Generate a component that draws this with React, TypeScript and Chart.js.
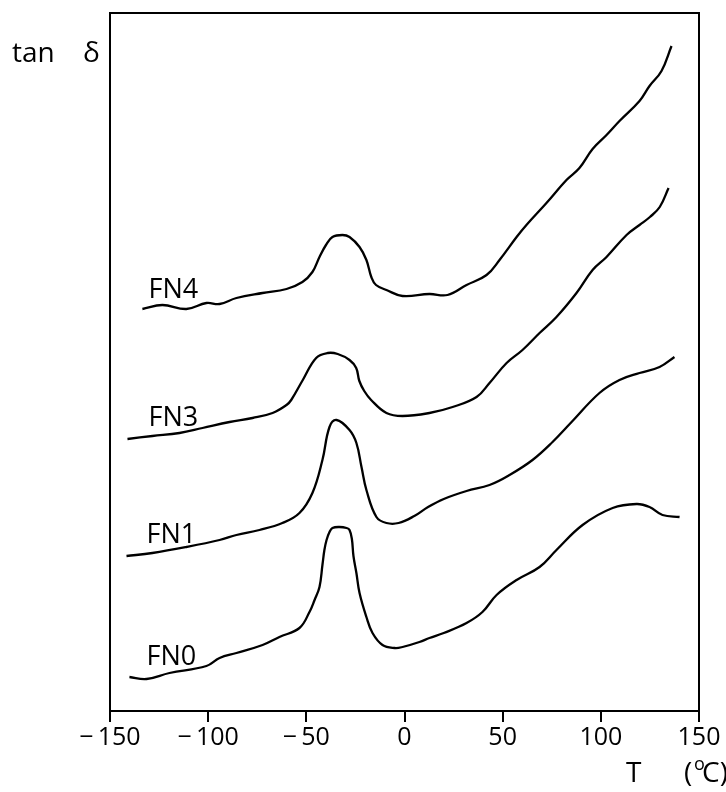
import { useEffect, useRef } from 'react';
import { Chart, registerables } from 'chart.js';

Chart.register(...registerables);

// Temperature axis ticks (°C)
const xTicks = [-150, -100, -50, 0, 50, 100, 150];

// tan δ curves (vertically offset, arbitrary units)
const fn4T = [-133.5, -123.3, -111.1, -100.9, -94.2, -85.6, -72.3, -60.1, -52.0, -46.9, -43.3, -40.0, -36.7, -31.6, -28.0, -22.9, -19.4, -16.9, -14.5, -9.2, -1.0, 12.7, 21.9, 31.6, 41.8, 48.4, 57.1, 62.1, 72.3, 82.5, 89.1, 95.8, 102.9, 109.5, 119.7, 124.8, 130.9, 136.0];
const fn4Y = [4.02, 4.06, 4.02, 4.08, 4.07, 4.13, 4.18, 4.22, 4.29, 4.39, 4.54, 4.66, 4.74, 4.76, 4.74, 4.64, 4.51, 4.34, 4.26, 4.21, 4.15, 4.17, 4.16, 4.26, 4.36, 4.51, 4.74, 4.86, 5.08, 5.31, 5.43, 5.62, 5.76, 5.90, 6.10, 6.25, 6.40, 6.65];

const fn3T = [-141.1, -128.4, -114.6, -102.9, -89.1, -77.4, -67.2, -60.1, -57.7, -51.8, -45.0, -39.1, -34.0, -28.0, -24.6, -23.0, -20.5, -17.0, -9.2, -1.0, 12.7, 24.5, 36.7, 43.3, 52.0, 60.1, 68.8, 77.4, 87.6, 95.8, 102.9, 113.1, 119.7, 125.0, 130.0, 134.5];
const fn3Y = [2.72, 2.75, 2.78, 2.83, 2.89, 2.93, 2.98, 3.06, 3.11, 3.31, 3.53, 3.58, 3.57, 3.51, 3.43, 3.30, 3.20, 3.11, 2.98, 2.95, 2.98, 3.04, 3.14, 3.28, 3.48, 3.61, 3.78, 3.94, 4.18, 4.41, 4.54, 4.76, 4.86, 4.94, 5.04, 5.23];

const fn1T = [-141.6, -128.4, -111.1, -94.2, -85.6, -73.9, -62.2, -53.5, -46.9, -41.8, -38.2, -34.6, -28.0, -24.5, -21.9, -19.4, -14.3, -9.2, -3.0, 5.0, 12.0, 20.0, 31.6, 43.3, 53.5, 65.2, 75.4, 85.1, 99.3, 109.5, 119.7, 129.9, 137.5];
const fn1Y = [1.55, 1.58, 1.64, 1.71, 1.76, 1.81, 1.88, 1.98, 2.18, 2.51, 2.84, 2.91, 2.81, 2.68, 2.44, 2.21, 1.94, 1.88, 1.88, 1.95, 2.04, 2.12, 2.20, 2.26, 2.36, 2.51, 2.69, 2.89, 3.18, 3.31, 3.38, 3.44, 3.54];

const fn0T = [-140.1, -131.4, -119.7, -100.9, -94.2, -85.6, -72.3, -63.7, -53.5, -48.4, -45.8, -43.3, -41.8, -40.8, -39.7, -38.2, -36.7, -33.1, -29.5, -28.0, -26.8, -26.0, -24.5, -22.9, -19.4, -16.3, -11.2, -5.0, -1.0, 7.6, 12.7, 20.0, 31.6, 39.7, 46.9, 57.1, 68.8, 77.4, 90.7, 106.0, 118.2, 124.8, 131.4, 140.1];
const fn0Y = [0.34, 0.32, 0.38, 0.45, 0.53, 0.58, 0.66, 0.74, 0.83, 0.99, 1.11, 1.24, 1.46, 1.61, 1.71, 1.79, 1.83, 1.84, 1.83, 1.81, 1.72, 1.55, 1.38, 1.18, 0.94, 0.78, 0.66, 0.63, 0.64, 0.69, 0.73, 0.78, 0.88, 0.99, 1.16, 1.31, 1.44, 1.61, 1.86, 2.03, 2.07, 2.04, 1.96, 1.94];

// Curve labels and their anchor (T, value of baseline)
const seriesNames = ['FN4', 'FN3', 'FN1', 'FN0'];
const labelT = [-130.4, -130.4, -131.4, -131.4];
const labelY = [4.13, 2.85, 1.68, 0.46];

const FONT = '"Open Sans", "DejaVu Sans", sans-serif';

const toPoints = (t: number[], y: number[]) => t.map((v, i) => ({ x: v, y: y[i] }));

export default function App() {
  const ref = useRef<HTMLCanvasElement>(null);

  useEffect(() => {
    document.body.style.margin = '0';
    const canvas = ref.current;
    if (!canvas) return;

    const textPlugin = {
      id: 'annotText',
      afterDraw(chart: any) {
        const { ctx, chartArea, scales } = chart;
        ctx.save();
        // frame
        ctx.strokeStyle = '#000';
        ctx.lineWidth = 2;
        ctx.strokeRect(chartArea.left, chartArea.top, chartArea.right - chartArea.left, chartArea.bottom - chartArea.top);
        ctx.fillStyle = '#000';
        ctx.textBaseline = 'alphabetic';
        // curve labels
        ctx.font = `400 27px ${FONT}`;
        ctx.textAlign = 'left';
        seriesNames.forEach((n, i) => {
          ctx.fillText(n, scales.x.getPixelForValue(labelT[i]), scales.y.getPixelForValue(labelY[i]));
        });
        // y label
        ctx.font = `400 28px ${FONT}`;
        ctx.fillText('tan', 12, 62);
        ctx.fillText('δ', 83, 62);
        // x title: T (°C) with superscript o
        const big = `400 28px ${FONT}`;
        const small = `400 18px ${FONT}`;
        const base = 782;
        ctx.font = big;
        ctx.fillText('T', 626, base);
        ctx.fillText('(', 684, base);
        ctx.fillText('C)', 702, base);
        ctx.font = small;
        ctx.fillText('o', 694, base - 12);
        ctx.restore();
      },
    };

    const mk = (t: number[], y: number[]) => ({
      data: toPoints(t, y),
      borderColor: '#000',
      borderWidth: 2.3,
      pointRadius: 0,
      showLine: true,
      fill: false,
      tension: 0.4,
    });

    const chart = new Chart(canvas, {
      type: 'scatter',
      data: {
        datasets: [mk(fn4T, fn4Y), mk(fn3T, fn3Y), mk(fn1T, fn1Y), mk(fn0T, fn0Y)],
      },
      options: {
        responsive: false,
        animation: false,
        devicePixelRatio: 1,
        layout: { padding: { left: 110, right: 27, top: 13, bottom: 0 } },
        plugins: { legend: { display: false }, tooltip: { enabled: false } },
        scales: {
          x: {
            type: 'linear',
            min: -150,
            max: 150,
            afterBuildTicks: (s: any) => {
              s.ticks = xTicks.map((v) => ({ value: v }));
            },
            afterFit: (s: any) => {
              s.height = 81;
            },
            grid: { display: true, drawOnChartArea: false, drawTicks: true, tickLength: 11, color: '#000', lineWidth: 2 },
            border: { display: true, color: '#000', width: 2 },
            ticks: {
              color: '#000',
              padding: 1,
              maxRotation: 0,
              autoSkip: false,
              font: { family: FONT, size: 25, weight: '400' as any },
              callback: (v: any) => (Number(v) < 0 ? '\u2212\u2009' + Math.abs(Number(v)) : String(v)),
            },
          },
          y: {
            type: 'linear',
            min: 0,
            max: 6.98,
            display: false,
          },
        },
      },
      plugins: [textPlugin],
    });
    return () => chart.destroy();
  }, []);

  return (
    <div style={{ width: 726, height: 792 }}>
      <canvas ref={ref} width={726} height={792} />
    </div>
  );
}
